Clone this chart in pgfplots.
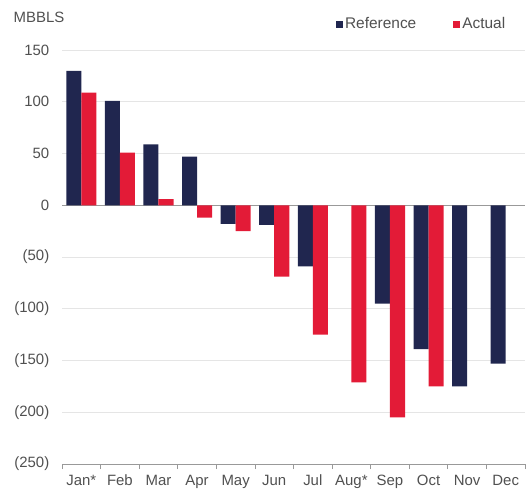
\documentclass[border=0pt]{standalone}
\usepackage{pgfplots}
\pgfplotsset{compat=1.18}
\usepackage{fontspec}
\setmainfont{Liberation Sans}
\definecolor{navy}{HTML}{20264F}
\definecolor{redbar}{HTML}{E31B37}
\definecolor{txt}{HTML}{505050}
\begin{document}
\begin{tikzpicture}[x=1bp,y=1bp]
\begin{axis}[
  scale only axis,
  width=463bp, height=414bp,
  ybar=0pt, bar width=0.39,
  xmin=-0.5, xmax=11.5,
  ymin=-250, ymax=150,
  xtick={0,...,11},
  xticklabels={Jan*,Feb,Mar,Apr,May,Jun,Jul,Aug*,Sep,Oct,Nov,Dec},
  minor xtick={-0.5,0.5,...,11.5},
  ytick={-250,-200,...,150},
  yticklabels={(250),(200),(150),(100),(50),0,50,100,150},
  axis x line*=bottom,
  axis y line*=left,
  y axis line style={draw=none},
  x axis line style={draw=gray!80, line width=0.8pt},
  major x tick style={draw=none},
  minor x tick style={draw=gray!80, line width=0.8pt},
  minor tick length=5bp,
  major y tick style={draw=none},
  tick align=outside,
  ymajorgrids,
  grid style={draw=black!10, line width=0.8pt},
  extra y ticks={0},
  extra y tick labels={},
  extra y tick style={grid style={draw=gray!80, line width=0.9pt}, major tick length=0pt},
  /pgf/number format/assume math mode=true,
  tick label style={font=\fontsize{15}{17}\selectfont, text=txt},
  yticklabel style={xshift=-5bp},
  xticklabel style={yshift=-3bp},
  legend columns=2,
  legend style={draw=none, fill=none, at={(0.962,1.063)}, anchor=east, inner sep=0pt,
    font=\fontsize{15.5}{17}\selectfont, text=txt,
    /tikz/every even column/.append style={column sep=35bp}},
  legend image code/.code={\fill[#1] (0bp,-3.5bp) rectangle (7bp,3.5bp);},
  legend cell align=left,
  clip=false,
]
\addplot[fill=navy, draw=none] coordinates {
 (0,130) (1,101) (2,59) (3,47) (4,-18) (5,-19) (6,-59) (8,-95) (9,-139) (10,-175) (11,-153)};
\addplot[fill=redbar, draw=none] coordinates {
 (0,109) (1,51) (2,6) (3,-12) (4,-25) (5,-69) (6,-125) (7,-171) (8,-205) (9,-175)};
\legend{Reference,Actual}
\node[anchor=west, text=txt, font=\fontsize{15}{17}\selectfont] at (rel axis cs:-0.112,1.078) {MBBLS};
\path (rel axis cs:-0.134,-0.065) rectangle (rel axis cs:1.0086,1.121);
\end{axis}
\end{tikzpicture}
\end{document}
